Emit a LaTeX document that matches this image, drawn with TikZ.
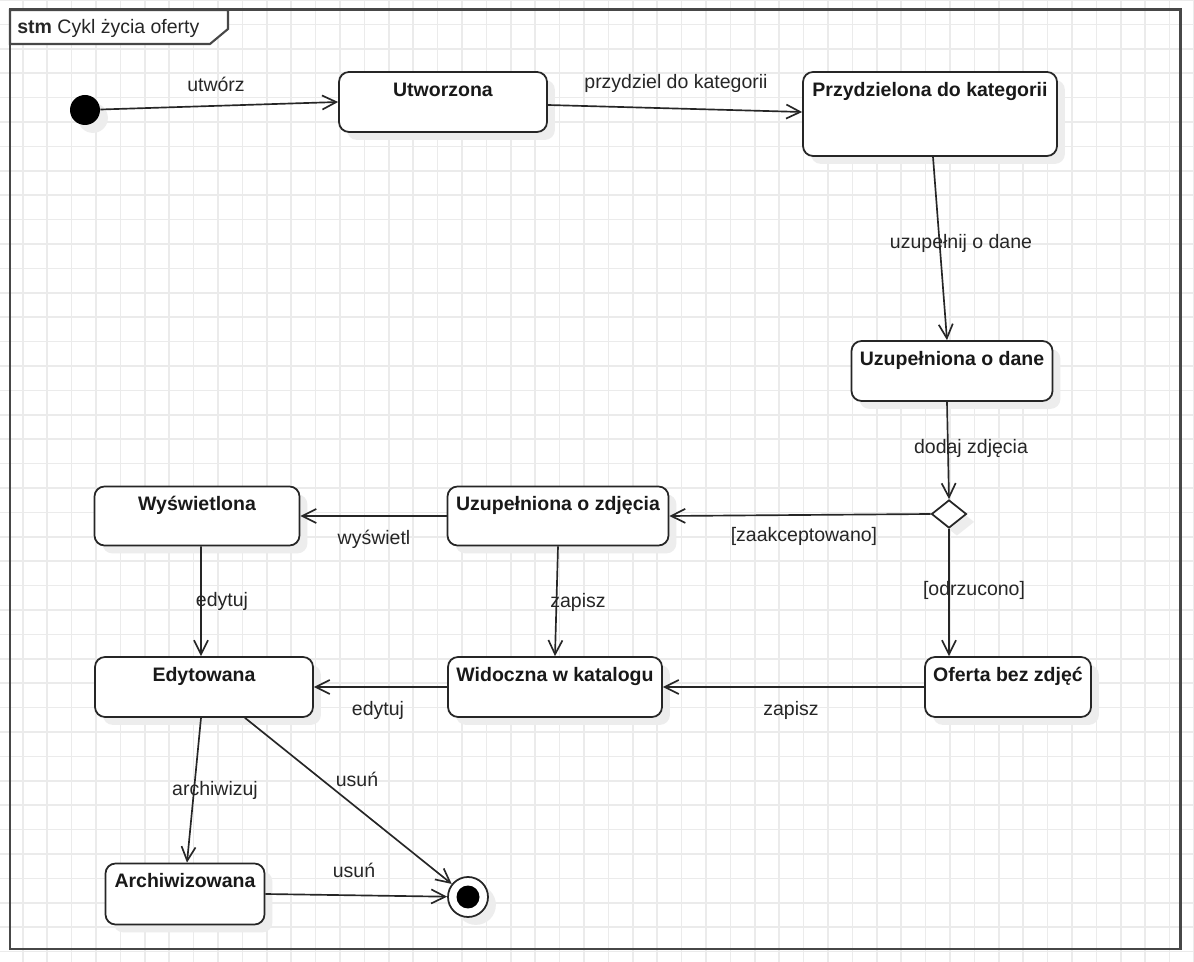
\documentclass[tikz,border=0pt]{standalone}
\usepackage{fontspec}
\setmainfont{Liberation Sans}
\usetikzlibrary{arrows.meta,positioning,shapes.geometric,shadows}

\tikzset{
  gridline/.style={line width=1pt, black!8},
  frameline/.style={line width=1.7pt, black!72},
  state/.style={draw=black!85, line width=1pt, fill=white, rounded corners=10*0.02cm,
    inner sep=0pt,
    drop shadow={shadow xshift=4.5pt, shadow yshift=-4.5pt, fill=black!7, opacity=1}},
  statetext/.style={font=\fontsize{11.1}{13}\selectfont\bfseries, text=black!90, inner sep=0pt},
  lbl/.style={font=\fontsize{11.1}{13}\selectfont, text=black!85, inner sep=1pt},
  trans/.style={draw=black!85, line width=0.95pt, ->},
}

% a state: name, x, y, width, height, text
\newcommand{\statebox}[6]{
  \node[state, minimum width=#4*0.02cm, minimum height=#5*0.02cm] (#1) at (#2,#3) {};
  \node[statetext, anchor=base] (#1-text) at ([yshift=-0.5cm]#1.north) {#6};
}

\begin{document}
\begin{tikzpicture}[x=0.02cm, y=-0.02cm, >={Straight Barb[length=8pt,width=8pt]}]
  \useasboundingbox (0,0) rectangle (1194,962);
  \fill[white] (0,0) rectangle (1194,962);

  % background grid
  \foreach \gx in {0,...,49}
    \draw[gridline] (\gx*24.4-1.6,0) -- (\gx*24.4-1.6,962);
  \foreach \gy in {0,...,39}
    \draw[gridline] (0,\gy*24.4) -- (1194,\gy*24.4);

  % frame with its tab
  \draw[frameline] (10,10) rectangle (1180,949);
  \draw[frameline, line width=1.2pt, fill=white] (10,10) -- (228,10) -- (228,29) -- (210,44) -- (10,44) -- cycle;
  \node[lbl, anchor=base west, inner sep=0pt] (tab) at (17,34) {\textbf{stm} Cykl życia oferty};

  % states
  \statebox{utw}{443}{102}{208}{60}{Utworzona}
  \statebox{przy}{930}{114}{254}{84}{Przydzielona do kategorii}
  \statebox{dane}{952}{371}{201}{60}{Uzupełniona o dane}
  \statebox{zdj}{558}{516}{221}{59}{Uzupełniona o zdjęcia}
  \statebox{wys}{197}{516}{205}{59}{Wyświetlona}
  \statebox{edyt}{204}{687}{218}{60}{Edytowana}
  \statebox{wid}{555}{687}{214}{60}{Widoczna w katalogu}
  \statebox{bez}{1008}{687}{166}{60}{Oferta bez zdjęć}
  \statebox{arch}{185}{894}{159}{61}{Archiwizowana}

  % pseudo states
  \node[circle, fill=black, minimum size=0.6cm, inner sep=0pt,
    drop shadow={shadow xshift=4.5pt, shadow yshift=-4.5pt, fill=black!7, opacity=1}] (init) at (85,110) {};
  \node[diamond, draw=black!85, line width=1pt, fill=white, inner sep=0pt,
    minimum width=35*0.02cm, minimum height=28*0.02cm,
    drop shadow={shadow xshift=4.5pt, shadow yshift=-4.5pt, fill=black!7, opacity=1}] (dec) at (949,514) {};
  \node[circle, draw=black!85, line width=1pt, fill=white, minimum size=0.8cm, inner sep=0pt,
    drop shadow={shadow xshift=4.5pt, shadow yshift=-4.5pt, fill=black!7, opacity=1}] (fin) at (468,897) {};
  \node[circle, fill=black, minimum size=0.46cm, inner sep=0pt] (fin-core) at (fin) {};

  % transitions
  \draw[trans] (init) -- (utw.west);
  \draw[trans] ([yshift=-0.06cm]utw.east) -- ([yshift=0.04cm]przy.west);
  \draw[trans] ([xshift=0.06cm]przy.south) -- ([xshift=-0.1cm]dane.north);
  \draw[trans] ([xshift=-0.1cm]dane.south) -- (dec.north);
  \draw[trans] (dec.west) -- (zdj.east);
  \draw[trans] (dec.south) -- (dec.south |- bez.north);
  \draw[trans] (zdj.west) -- (wys.east);
  \draw[trans] (zdj.south) -- (wid.north);
  \draw[trans] ([xshift=0.08cm]wys.south) -- ([xshift=-0.06cm]edyt.north);
  \draw[trans] (bez.west) -- (wid.east);
  \draw[trans] (wid.west) -- (edyt.east);
  \draw[trans] ([xshift=-0.06cm]edyt.south) -- ([xshift=0.04cm]arch.north);
  \draw[trans] ([xshift=0.82cm]edyt.south) -- (fin);
  \draw[trans] (arch.east) -- (fin);

  % transition labels
  \node[lbl] (l-utworz) at (216,84) {utwórz};
  \node[lbl] (l-przydziel) at (676,83) {przydziel do kategorii};
  \node[lbl] (l-dane) at (961,243) {uzupełnij o dane};
  \node[lbl] (l-zdjecia) at (971,448) {dodaj zdjęcia};
  \node[lbl] (l-zaakc) at (804,536) {[zaakceptowano]};
  \node[lbl] (l-odrz) at (974,590) {[odrzucono]};
  \node[lbl] (l-wysw) at (374,539) {wyświetl};
  \node[lbl] (l-zapisz1) at (578,602) {zapisz};
  \node[lbl] (l-edytuj1) at (222,601) {edytuj};
  \node[lbl] (l-zapisz2) at (791,710) {zapisz};
  \node[lbl] (l-edytuj2) at (378,710) {edytuj};
  \node[lbl] (l-arch) at (215,790) {archiwizuj};
  \node[lbl] (l-usun1) at (357,779) {usuń};
  \node[lbl] (l-usun2) at (354,870) {usuń};
\end{tikzpicture}
\end{document}
